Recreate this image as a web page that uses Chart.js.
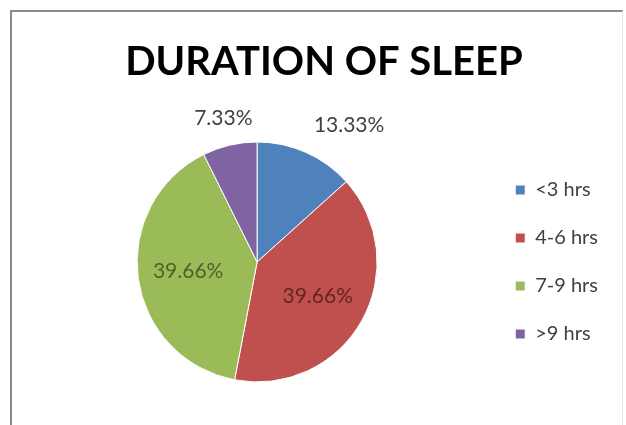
<!DOCTYPE html>
<html>
<head>
<meta charset="utf-8">
<script src="https://cdn.jsdelivr.net/npm/chart.js@4"></script>
<style>
  html, body { margin: 0; padding: 0; background: #fff; }
  #wrap { position: relative; width: 626px; height: 425px; overflow: hidden; }
  #frame {
    position: absolute; left: 10px; top: 10px; width: 613px; height: 440px;
    border-top: 2px solid #8a8a8a; border-left: 2px solid #8a8a8a; border-right: 1px solid #e6e6e6;
    box-sizing: border-box;
  }
  canvas { position: absolute; left: 0; top: 0; }
</style>
</head>
<body>
<div id="wrap">
  <div id="frame"></div>
  <canvas id="c" width="626" height="425"></canvas>
</div>
<script>
// Sleep duration shares (percent of respondents)
const chartTitle = 'DURATION OF SLEEP';
const categories = ['<3 hrs', '4-6 hrs', '7-9 hrs', '>9 hrs'];
const shares = [13.33, 39.66, 39.66, 7.33];

const sliceColors = ['#4F81BD', '#C0504D', '#9BBB59', '#8064A2'];
const labelColors = ['#404040', '#632523', '#4F6228', '#404040'];
// where each value label sits: distance as a fraction of the radius, plus an angular nudge in degrees
const labelPlacement = [
  { dist: 1.375, turn: 9.9 },
  { dist: 0.58, turn: 0 },
  { dist: 0.58, turn: 0 },
  { dist: 1.233, turn: 0 }
];

// heading drawn across the top band that layout.padding.top reserves
const heading = {
  id: 'heading',
  afterDraw(chart) {
    const ctx = chart.ctx;
    ctx.save();
    ctx.font = 'bold 40px Lato, "Open Sans", sans-serif';
    ctx.fillStyle = '#000000';
    ctx.textAlign = 'center';
    ctx.textBaseline = 'alphabetic';
    ctx.fillText(chartTitle, 324, 75);
    ctx.restore();
  }
};

const valueLabels = {
  id: 'valueLabels',
  afterDatasetsDraw(chart) {
    const ctx = chart.ctx;
    const meta = chart.getDatasetMeta(0);
    ctx.save();
    ctx.font = '21px Lato, "Open Sans", sans-serif';
    ctx.textAlign = 'center';
    ctx.textBaseline = 'middle';
    meta.data.forEach((arc, i) => {
      const p = arc.getProps(['x', 'y', 'startAngle', 'endAngle', 'outerRadius'], true);
      const place = labelPlacement[i];
      const a = (p.startAngle + p.endAngle) / 2 + place.turn * Math.PI / 180;
      const r = p.outerRadius * place.dist;
      const x = p.x + Math.cos(a) * r;
      const y = p.y + Math.sin(a) * r;
      ctx.fillStyle = labelColors[i];
      ctx.fillText(shares[i].toFixed(2) + '%', x, y);
    });
    ctx.restore();
  }
};

new Chart(document.getElementById('c'), {
  type: 'pie',
  data: {
    labels: categories,
    datasets: [{
      data: shares,
      backgroundColor: sliceColors,
      borderColor: '#ffffff',
      borderWidth: 1,
      radius: 120
    }]
  },
  options: {
    responsive: false,
    animation: false,
    layout: { padding: { left: 27, right: 18, top: 142, bottom: 43 } },
    plugins: {
      title: { display: false },
      legend: {
        position: 'right',
        labels: {
          color: '#404040',
          font: { family: 'Lato, "Open Sans", sans-serif', size: 20 },
          boxWidth: 10,
          boxHeight: 10,
          padding: 28
        }
      },
      tooltip: { enabled: false }
    }
  },
  plugins: [valueLabels, heading]
});
</script>
</body>
</html>
